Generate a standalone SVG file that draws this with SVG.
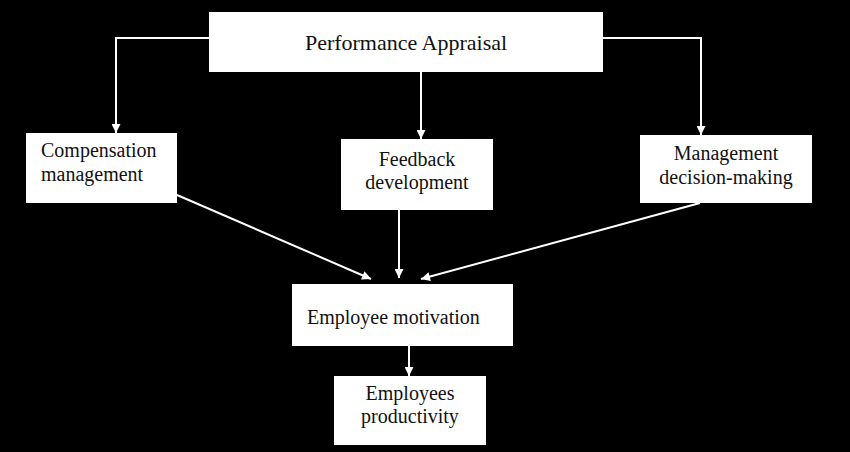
<svg xmlns="http://www.w3.org/2000/svg" width="850" height="452" viewBox="0 0 850 452">
<style>
.box{fill:#fff;stroke:none}
.t{font-family:"Liberation Serif","Times New Roman",serif;font-size:20px;fill:#111}
.big{font-size:22px}
.c{stroke:#fff;stroke-width:2;fill:none}
</style>
<defs>
<marker id="ah" viewBox="0 0 10 10" refX="10" refY="5" markerWidth="10" markerHeight="9" markerUnits="userSpaceOnUse" orient="auto">
<path d="M0,0 L10,5 L0,10 z" fill="#fff"/>
</marker>
</defs>
<rect width="850" height="452" fill="#000"/>
<g id="connectors">
<polyline class="c" points="209,38 116,38 116,133" marker-end="url(#ah)"/>
<line class="c" x1="421" y1="72" x2="421" y2="139" marker-end="url(#ah)"/>
<polyline class="c" points="603,38 701,38 701,135" marker-end="url(#ah)"/>
<line class="c" x1="177" y1="195" x2="371" y2="279" marker-end="url(#ah)"/>
<line class="c" x1="399" y1="210" x2="399" y2="278" marker-end="url(#ah)"/>
<line class="c" x1="700" y1="203" x2="421" y2="279" marker-end="url(#ah)"/>
<line class="c" x1="409" y1="346" x2="409" y2="376" marker-end="url(#ah)"/>
</g>
<g id="performance-appraisal">
<rect class="box" x="209" y="12" width="394" height="60"/>
<text class="t big" x="406" y="50" text-anchor="middle">Performance Appraisal</text>
</g>
<g id="compensation-management">
<rect class="box" x="26" y="133" width="151" height="70"/>
<text class="t" x="41" y="157">Compensation</text>
<text class="t" x="41" y="181">management</text>
</g>
<g id="feedback-development">
<rect class="box" x="341" y="139" width="152" height="71"/>
<text class="t" x="417" y="166" text-anchor="middle">Feedback</text>
<text class="t" x="417" y="189" text-anchor="middle">development</text>
</g>
<g id="management-decision-making">
<rect class="box" x="640" y="135" width="172" height="68"/>
<text class="t" x="726" y="160" text-anchor="middle">Management</text>
<text class="t" x="726" y="184" text-anchor="middle">decision-making</text>
</g>
<g id="employee-motivation">
<rect class="box" x="292" y="284" width="221" height="62"/>
<text class="t" x="307" y="324">Employee motivation</text>
</g>
<g id="employees-productivity">
<rect class="box" x="334" y="376" width="152" height="69"/>
<text class="t" x="410" y="400" text-anchor="middle">Employees</text>
<text class="t" x="410" y="423" text-anchor="middle">productivity</text>
</g>
</svg>
